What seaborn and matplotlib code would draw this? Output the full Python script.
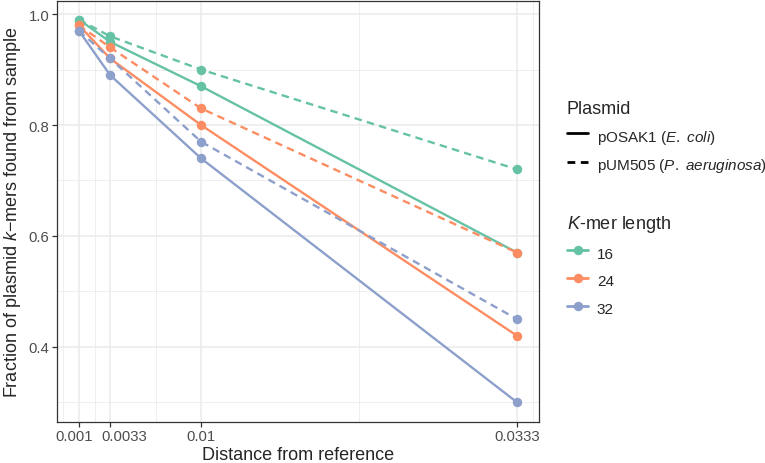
import numpy as np
import pandas as pd
import matplotlib
matplotlib.use("Agg")
import matplotlib.pyplot as plt
import matplotlib.transforms as mtransforms
from matplotlib.lines import Line2D
import seaborn as sns

# data
distance = [0.001, 0.0033, 0.01, 0.0333]
kmer_lengths = ["16", "24", "32"]
osak1 = {"16": [0.99, 0.95, 0.87, 0.57],
         "24": [0.98, 0.92, 0.80, 0.42],
         "32": [0.97, 0.89, 0.74, 0.30]}
um505 = {"16": [0.99, 0.96, 0.90, 0.72],
         "24": [0.98, 0.94, 0.83, 0.57],
         "32": [0.97, 0.92, 0.77, 0.45]}
x_ticks = [0.001, 0.0033, 0.01, 0.0333]
x_tick_labels = ["0.001", "0.0033", "0.01", "0.0333"]
y_ticks = [0.4, 0.6, 0.8, 1.0]

rows = []
for k in kmer_lengths:
    for d, v in zip(distance, osak1[k]):
        rows.append({"distance": d, "fraction": v, "kmer": k, "plasmid": "pOSAK1"})
    for d, v in zip(distance, um505[k]):
        rows.append({"distance": d, "fraction": v, "kmer": k, "plasmid": "pUM505"})
df = pd.DataFrame(rows)

sns.set_theme(style="white")
plt.rcParams["font.family"] = ["Liberation Sans", "DejaVu Sans"]
plt.rcParams["mathtext.fontset"] = "custom"
plt.rcParams["mathtext.rm"] = "Liberation Sans"
plt.rcParams["mathtext.it"] = "Liberation Sans:italic"

colors = ["#66C2A5", "#FC8D62", "#8DA0CB"]
palette = dict(zip(kmer_lengths, colors))
dash_style = (3.2, 2.2)

fig = plt.figure(figsize=(7.65, 4.64), dpi=100)
ax = fig.add_axes([57 / 765, 1 - 422.5 / 464, (539 - 57) / 765, (422.5 - 1.5) / 464])

sns.lineplot(data=df, x="distance", y="fraction", hue="kmer", style="plasmid",
             palette=palette, markers={"pOSAK1": "o", "pUM505": "o"},
             dashes={"pOSAK1": "", "pUM505": dash_style},
             markersize=6.8, markeredgewidth=0, linewidth=1.7,
             estimator=None, sort=False, legend=False, ax=ax)

# ggplot-like limits (5% expansion)
xr = max(distance) - min(distance)
ax.set_xlim(min(distance) - 0.05 * xr, max(distance) + 0.05 * xr)
yr = 0.99 - 0.30
ax.set_ylim(0.30 - 0.05 * yr, 0.99 + 0.05 * yr)

ax.set_xticks(x_ticks)
ax.set_xticklabels(x_tick_labels)
ax.set_yticks(y_ticks)
ax.set_yticklabels([f"{t:.1f}" for t in y_ticks])

# minor breaks: midpoints, extended one step on each side
b = np.array(x_ticks)
bd = np.diff(b)
ext = np.concatenate([[b[0] - bd[0]], b, [b[-1] + bd[0]]])
x_minor = (ext[:-1] + ext[1:]) / 2
ax.set_xticks(x_minor, minor=True)
ax.set_yticks([0.3, 0.5, 0.7, 0.9], minor=True)

ax.grid(True, which="major", color="#EBEBEB", linewidth=1.1)
ax.grid(True, which="minor", color="#EBEBEB", linewidth=0.55)
ax.set_axisbelow(True)
for s in ax.spines.values():
    s.set_color("#333333")
    s.set_linewidth(0.9)
ax.tick_params(which="major", length=3.5, width=0.9, color="#333333",
               labelsize=10.7, labelcolor="#4D4D4D", pad=2, bottom=True, left=True)
ax.tick_params(which="minor", length=0)

# the two crowded labels sit shifted apart in the reference
label_shift = {"0.001": -3.3, "0.0033": 10.0}
for lab in ax.get_xticklabels():
    dx = label_shift.get(lab.get_text(), 0)
    if dx:
        lab.set_transform(lab.get_transform() +
                          mtransforms.ScaledTranslation(dx / 72, 0, fig.dpi_scale_trans))

ax.set_xlabel("Distance from reference", fontsize=13, labelpad=2)
ax.set_ylabel("Fraction of plasmid $\\mathit{k}$\u2212mers found from sample",
              fontsize=13, labelpad=4)

leg_kw = dict(frameon=False, fontsize=11, title_fontsize=13, handlelength=1.4,
              handleheight=1.5, handletextpad=0.55, labelspacing=0.6,
              alignment="left", borderaxespad=0, borderpad=0)

pl_handles = [Line2D([], [], color="black", linewidth=2.0),
              Line2D([], [], color="black", linewidth=2.0, linestyle=(0, (2.8, 2.0)))]
pl_labels = ["pOSAK1 ($\\mathit{E.\\ coli}$)", "pUM505 ($\\mathit{P.\\ aeruginosa}$)"]
leg1 = fig.legend(pl_handles, pl_labels, title="Plasmid", loc="upper left",
                  bbox_to_anchor=(567 / 765, 1 - 101 / 464), **leg_kw)

km_handles = [Line2D([], [], color=c, linewidth=2.0, marker="o", markersize=6.8,
                     markeredgewidth=0) for c in colors]
leg2 = fig.legend(km_handles, kmer_lengths, title="$\\mathit{K}$-mer length",
                  loc="upper left", bbox_to_anchor=(567 / 765, 1 - 214 / 464), **leg_kw)

fig.savefig("out.png", dpi=100)
